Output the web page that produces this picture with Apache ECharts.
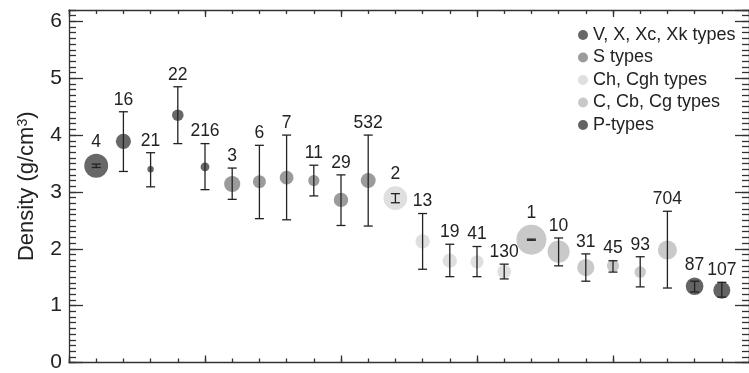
<!DOCTYPE html>
<html><head><meta charset="utf-8">
<script src="https://cdn.jsdelivr.net/npm/echarts@6/dist/echarts.min.js"></script>
<style>html,body{margin:0;padding:0;background:#fff}#c{width:749px;height:373px}</style>
</head><body><div id="c"></div>
<script>
// ---- data ----
const asteroids   = ['4','16','21','22','216','3','6','7','11','29','532','2','13','19','41','130','1','10','31','45','93','704','87','107'];
const density     = [3.46,3.89,3.40,4.35,3.44,3.14,3.18,3.25,3.20,2.86,3.20,2.89,2.13,1.79,1.77,1.60,2.16,1.95,1.67,1.70,1.59,1.98,1.34,1.27];
const densityHigh = [3.49,4.41,3.69,4.85,3.85,3.42,3.82,4.00,3.47,3.30,4.00,2.97,2.62,2.08,2.04,1.73,2.17,2.19,1.91,1.79,1.86,2.66,1.43,1.41];
const densityLow  = [3.43,3.36,3.09,3.85,3.04,2.87,2.53,2.51,2.93,2.41,2.40,2.81,1.64,1.51,1.51,1.47,2.15,1.70,1.43,1.59,1.33,1.31,1.24,1.15];
const diameterKm  = [525,226,98,160,124,250,185,200,155,212,222,512,208,210,187,199,940,440,275,170,160,330,286,270];
const taxType     = ['V','V','V','V','V','S','S','S','S','S','S','Ch','Ch','Ch','Ch','Ch','C','C','C','C','C','C','P','P'];
const typeKeys    = ['V','S','Ch','C','P'];
const typeNames   = ['V, X, Xc, Xk types','S types','Ch, Cgh types','C, Cb, Cg types','P-types'];
const typeColors  = ['#686868','#9b9b9b','#dfdfdf','#c9c9c9','#646464'];
const yMin = 0, yMax = 6.2, xMin = 0, xMax = 25;

const FONT = '"Liberation Sans", Arial, Helvetica, sans-serif';
function markerSize(d){ return 2 * (5.22 * Math.log(d / 98) + 3.2); }

const chart = echarts.init(document.getElementById('c'), null, {renderer:'canvas'});

const lineStyle = {color:'#333', width:1.3};
function xAx(pos, interval, len, showLine){
  return {type:'value', position:pos, min:xMin, max:xMax, interval:interval,
    axisLine:{show:showLine, onZero:false, lineStyle:lineStyle},
    axisTick:{show:true, inside:true, length:len, lineStyle:lineStyle},
    axisLabel:{show:false}, splitLine:{show:false}};
}
function yAx(pos, interval, len, showLine, labels){
  const a = {type:'value', position:pos, min:yMin, max:yMax, interval:interval,
    axisLine:{show:showLine, onZero:false, lineStyle:lineStyle},
    axisTick:{show:true, inside:true, length:len, lineStyle:lineStyle},
    axisLabel:{show:false}, splitLine:{show:false}};
  if (labels) {
    a.axisLabel = {show:true, margin:7, fontSize:21, color:'#222', fontFamily:FONT,
      showMaxLabel:false,
      formatter: v => (Math.abs(v - Math.round(v)) < 1e-6 ? String(Math.round(v)) : '')};
    a.name = 'Density (g/cm{s|3})';
    a.nameLocation = 'middle';
    a.nameRotate = 90;
    a.nameGap = 31;
    a.nameTextStyle = {fontSize:22, color:'#222', fontFamily:FONT,
      rich:{s:{fontSize:14, color:'#222', fontFamily:FONT, verticalAlign:'top'}}};
  }
  return a;
}

const scatterSeries = typeKeys.map((k, ti) => ({
  type:'scatter', name:typeNames[ti], z:2,
  xAxisIndex:0, yAxisIndex:0,
  symbol:'circle',
  symbolSize: v => markerSize(v[2]),
  itemStyle:{color:typeColors[ti], opacity:1},
  emphasis:{disabled:true},
  data: asteroids.map((n, i) => [i + 1, density[i], diameterKm[i]]).filter((d, i) => taxType[i] === k)
}));

const errSeries = {
  type:'custom', z:5, xAxisIndex:0, yAxisIndex:0, silent:true,
  data: asteroids.map((n, i) => [i + 1, densityLow[i], densityHigh[i], density[i], diameterKm[i]]),
  renderItem: function(params, api){
    const x = api.value(0);
    const pLo = api.coord([x, api.value(1)]);
    const pHi = api.coord([x, api.value(2)]);
    const pV = api.coord([x, api.value(3)]);
    const r = markerSize(api.value(4)) / 2;
    const top = Math.min(pHi[1], pV[1] - r);
    const cw = 4.5;
    const st = {stroke:'#222', lineWidth:1.3};
    return {type:'group', children:[
      {type:'line', shape:{x1:pLo[0], y1:pLo[1], x2:pHi[0], y2:pHi[1]}, style:st},
      {type:'line', shape:{x1:pLo[0]-cw, y1:pLo[1], x2:pLo[0]+cw, y2:pLo[1]}, style:st},
      {type:'line', shape:{x1:pHi[0]-cw, y1:pHi[1], x2:pHi[0]+cw, y2:pHi[1]}, style:st},
      {type:'text', style:{text:asteroids[params.dataIndex], x:pV[0], y:top - 12,
        align:'center', verticalAlign:'middle', fontSize:17.5, fontFamily:FONT, fill:'#222'}}
    ]};
  }
};

chart.setOption({
  animation:false,
  backgroundColor:'#fff',
  grid:{left:69, top:10, right:-11, bottom:8, containLabel:false},
  legend:{
    data:typeNames, orient:'vertical', left:573, top:21,
    itemWidth:10, itemHeight:10, itemGap:4.5, icon:'circle',
    textStyle:{fontSize:18, color:'#222', fontFamily:FONT},
    selectedMode:false
  },
  xAxis:[
    xAx('bottom', 5, 7, true),
    xAx('bottom', 1, 4, false),
    xAx('top', 5, 7, true),
    xAx('top', 1, 4, false)
  ],
  yAxis:[
    yAx('left', 1, 14, true, true),
    yAx('left', 0.1, 7, false, false),
    yAx('right', 1, 14, true, false),
    yAx('right', 0.1, 7, false, false)
  ],
  series: scatterSeries.concat([errSeries])
});
</script>
</body></html>
